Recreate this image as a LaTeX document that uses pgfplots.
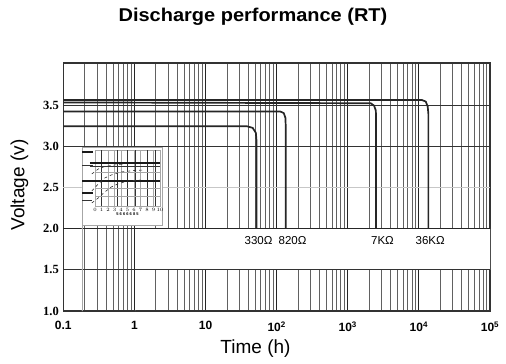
\documentclass[border=0pt]{standalone}
\usepackage{fontspec}
\setmainfont{Liberation Sans}
\newfontfamily\serifbf{Liberation Serif}
\usepackage{pgfplots}
\pgfplotsset{compat=1.18}
\begin{document}
\begin{tikzpicture}
\useasboundingbox (-63.3pt,-53pt) rectangle (442.7pt,311pt);
\begin{axis}[
  at={(0,0)}, anchor=south west,
  scale only axis, width=426.7pt, height=248pt,
  xmode=log, xmin=0.1, xmax=1e5, ymin=1.0, ymax=4.02,
  xtick={0.1,1,10,100,1000,10000,100000},
  xticklabels={0.1,1,10,10\textsuperscript{2},10\textsuperscript{3},10\textsuperscript{4},10\textsuperscript{5}},
  minor xtick={0.2,0.3,0.4,0.5,0.6,0.7,0.8,0.9,2,3,4,5,6,7,8,9,20,30,40,50,60,70,80,90,200,300,400,500,600,700,800,900,2000,3000,4000,5000,6000,7000,8000,9000,20000,30000,40000,50000,60000,70000,80000,90000},
  ytick={1,1.5,2,2.5,3,3.5},
  yticklabels={1.0,1.5,2.0,2.5,3.0,3.5},
  major tick length=0pt, minor tick length=0pt,
  xmajorgrids, xminorgrids,
  major grid style={black!85, line width=1.0pt},
  minor grid style={black!62, line width=0.8pt},
  axis line style={black!80, line width=1.3pt},
  xticklabel style={font=\fontsize{12}{14}\selectfont\bfseries, yshift=-7pt},
  yticklabel style={font=\fontsize{12.5}{14}\selectfont\serifbf\bfseries, xshift=-1pt},
  clip=false,
]
% white band
\addplot[fill=white, draw=none] coordinates {(1.03,1.5) (1e5,1.5) (1e5,2.0) (1.03,2.0)} \closedcycle;
% horizontal grid lines
\addplot[black!80, line width=1.0pt] coordinates {(0.1,1.5) (1e5,1.5)};
\addplot[black!85, line width=1.2pt] coordinates {(0.1,2.0) (1e5,2.0)};
\addplot[black!22, line width=0.8pt] coordinates {(0.1,2.5) (1e5,2.5)};
\addplot[black!80, line width=1.0pt] coordinates {(0.1,3.0) (1e5,3.0)};
\addplot[black!80, line width=1.1pt] coordinates {(0.1,3.5) (1e5,3.5)};
% discharge curves
\addplot[black!85, line width=1.7pt] coordinates {(0.1,3.57) (11000,3.57) (12500,3.55) (13300,3.49) (13600,3.40) (13600,2.0)};
\addplot[black!85, line width=1.7pt] coordinates {(0.1,3.54) (2100,3.53) (2350,3.50) (2480,3.44) (2500,3.36) (2500,2.0)};
\addplot[black!85, line width=1.7pt] coordinates {(0.1,3.43) (112,3.43) (126,3.41) (133,3.35) (134,3.26) (134,2.0)};
\addplot[black!85, line width=1.7pt] coordinates {(0.1,3.25) (38,3.25) (46,3.23) (51,3.17) (52,3.08) (52,2.0)};
% labels
\node[font=\fontsize{11.5}{13}\selectfont] at (axis cs:55.6,1.86) {330Ω};
\node[font=\fontsize{11.5}{13}\selectfont] at (axis cs:167.5,1.86) {820Ω};
\node[font=\fontsize{11.5}{13}\selectfont] at (axis cs:3080,1.86) {7KΩ};
\node[font=\fontsize{11.5}{13}\selectfont] at (axis cs:14400,1.86) {36KΩ};
% inset background
\addplot[fill=white, draw=black!35, line width=0.6pt] coordinates {(0.183,2.04) (2.44,2.04) (2.44,2.99) (0.183,2.99)} \closedcycle;
\end{axis}
\begin{axis}[
  at={(31.7pt,105pt)}, anchor=south west,
  scale only axis, width=65pt, height=56pt,
  xmin=0, xmax=10, ymin=0, ymax=56,
  xtick={0,1,2,3,4,5,6,7,8,9,10},
  ytick=\empty,
  major tick length=0pt,
  xmajorgrids,
  major grid style={black!35, line width=0.5pt},
  axis line style={black!35, line width=0.5pt},
  xticklabel style={font=\fontsize{3.5}{4}\selectfont\bfseries, inner sep=0.3pt, yshift=-1.5pt},
  xlabel={5 6 6 6 6 8 5},
  xlabel style={font=\fontsize{4}{5}\selectfont\bfseries, inner sep=0pt, yshift=-1pt},
  clip=false,
]
% darker vertical lines
\addplot[black!80, line width=0.8pt] coordinates {(1,0) (1,56)};
\addplot[black!80, line width=0.8pt] coordinates {(3.5,0) (3.5,56)};
\addplot[black!80, line width=0.8pt] coordinates {(5,0) (5,56)};
\addplot[black!80, line width=0.8pt] coordinates {(6.2,0) (6.2,56)};
\addplot[black!80, line width=0.8pt] coordinates {(8,0) (8,56)};
\addplot[black!80, line width=0.8pt] coordinates {(9.3,0) (9.3,56)};
% horizontal lines
\addplot[black!35, line width=0.5pt] coordinates {(0,10) (10,10)};
\addplot[black!35, line width=0.5pt] coordinates {(0,18) (10,18)};
\addplot[black!35, line width=0.5pt] coordinates {(0,34) (10,34)};
\addplot[black!90, line width=2pt] coordinates {(-0.8,43) (10,43)};
\addplot[black!80, line width=1pt] coordinates {(-0.8,39) (10,39)};
\addplot[black!90, line width=2pt] coordinates {(-2,25) (10,25)};
% left dashes
\addplot[black!90, line width=2pt] coordinates {(-2,54) (-0.3,54)};
\addplot[black!90, line width=2pt] coordinates {(-2,13) (-0.3,13)};
\addplot[black!80, line width=0.8pt] coordinates {(-2,41) (-0.3,41)};
\addplot[black!80, line width=1pt] coordinates {(-2,5) (-0.5,5)};
% dashed curves
\addplot[black!80, line width=0.6pt, dashed] coordinates {(-0.5,3) (0.5,8) (1.5,14) (2.5,19) (3.5,22) (5,25) (7,26)};
\addplot[black!80, line width=0.6pt, dashed] coordinates {(-0.5,15) (0.5,22) (1.5,28) (2.5,31) (4,34) (6,35.5) (7.5,36)};
\addplot[black!80, line width=0.6pt, dashed] coordinates {(-0.5,32) (0.5,37) (1.5,39.5) (3,41) (4.5,42)};
\end{axis}
\node[font=\fontsize{18.5}{22}\selectfont\bfseries] at (189.7pt,294pt) {\scalebox{1.08}[1]{Discharge performance (RT)}};
\node[rotate=90, font=\fontsize{19}{22}\selectfont] at (-43.8pt,126pt) {Voltage (v)};
\node[font=\fontsize{19}{22}\selectfont] at (192.2pt,-38pt) {Time (h)};
\end{tikzpicture}
\end{document}
